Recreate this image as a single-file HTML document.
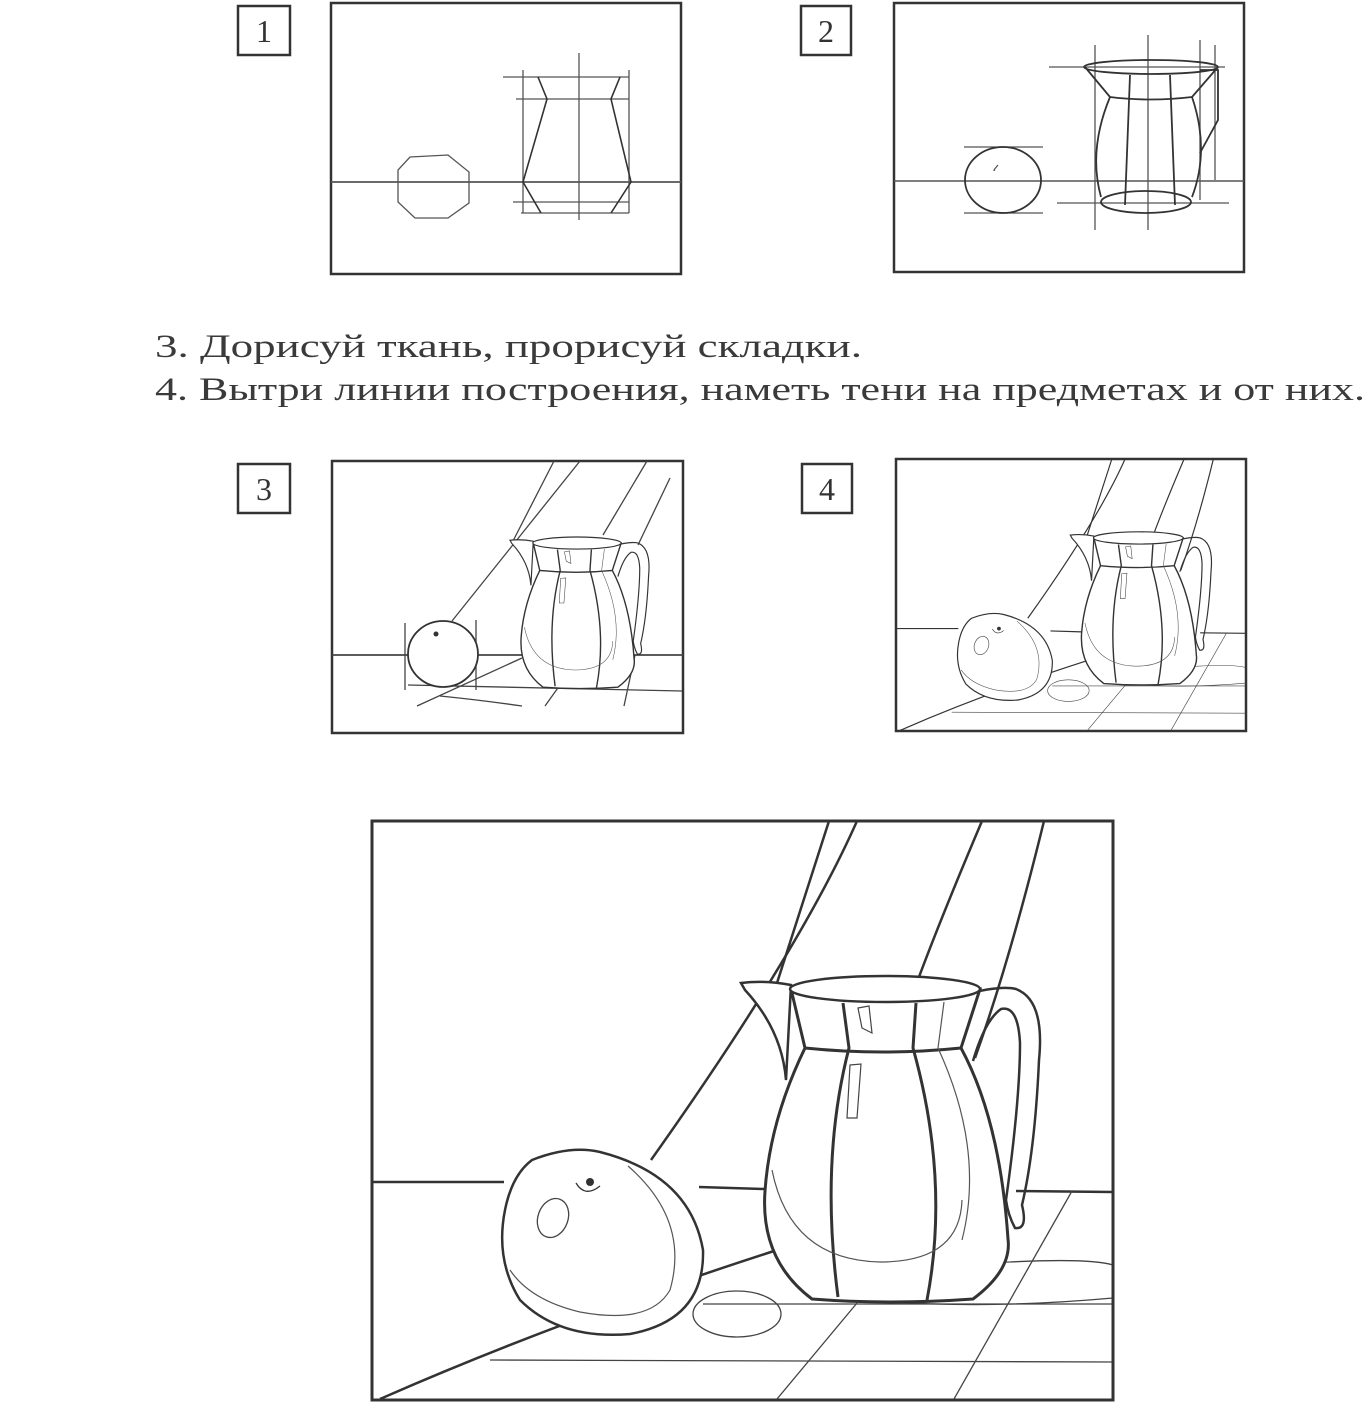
<!DOCTYPE html>
<html><head><meta charset="utf-8"><style>
html,body{margin:0;padding:0;background:#fff;}
svg{display:block;}
</style></head><body>
<svg width="1371" height="1424" viewBox="0 0 1371 1424" xmlns="http://www.w3.org/2000/svg">
<defs>
<g id="jug">
  <!-- spout -->
  <path d="M741,983 Q765,980 791,985 L786,1080 Q782,1030 745,990 Z" fill="#fff" stroke="#333" stroke-width="2.5"/>
  <!-- handle -->
  <path d="M963,995 Q1000,985 1016,989 Q1045,1000 1039,1060 Q1035,1150 1022,1205 Q1028,1230 1015,1228 Q1008,1215 1006,1200 Q1020,1100 1020,1043 Q1018,1005 1001,1009 Q985,1020 973,1061" fill="none" stroke="#333" stroke-width="2.5"/>
  <!-- body -->
  <path d="M805,1048 Q770,1120 765,1191 Q760,1260 812,1299 Q890,1305 973,1299 Q1012,1270 1008,1239 Q1000,1120 961,1048 Z" fill="#fff" stroke="#333" stroke-width="3"/>
  <!-- neck -->
  <path d="M791,989 L805,1048 Q883,1056 961,1048 L980,989 Z" fill="#fff" stroke="#333" stroke-width="3"/>
  <ellipse cx="885" cy="989" rx="95" ry="13" fill="#fff" stroke="#333" stroke-width="2.5"/>
  <!-- panel lines -->
  <path d="M843,1003 L849,1048 Q820,1160 838,1297" fill="none" stroke="#333" stroke-width="3"/>
  <path d="M916,1003 L913,1048 Q950,1180 927,1300" fill="none" stroke="#333" stroke-width="3"/>
  <path d="M944,1002 L938,1048 Q985,1150 962,1240" fill="none" stroke="#555" stroke-width="1.2"/>
  <path d="M772,1170 Q790,1260 880,1262 Q960,1262 962,1200" fill="none" stroke="#555" stroke-width="1.2"/>
  <!-- highlights -->
  <path d="M858,1008 L869,1006 L872,1033 L862,1028 Z" fill="none" stroke="#444" stroke-width="1.2"/>
  <path d="M850,1065 L861,1064 L857,1118 L847,1118 Z" fill="none" stroke="#444" stroke-width="1.2"/>
</g>
<g id="scene">
  <!-- fabric -->
  <g fill="none" stroke="#333" stroke-width="2.5">
    <path d="M829,821 L777,983"/>
    <path d="M857,821 Q800,950 651,1160"/>
    <path d="M982,821 Q940,920 916,985"/>
    <path d="M1044,821 Q1010,960 975,1058"/>
    <!-- table -->
    <path d="M372,1182 L504,1182"/>
    <path d="M699,1187 L765,1189"/>
    <path d="M1016,1191 L1113,1192"/>
    <path d="M380,1399 Q560,1320 774,1251"/>
  </g>
  <g fill="none" stroke="#444" stroke-width="1.3">
    <path d="M703,1304 L1113,1304"/>
    <path d="M490,1360 L1113,1362"/>
    <path d="M1072,1191 L954,1399"/>
    <path d="M857,1303 L777,1399"/>
    <ellipse cx="737" cy="1314" rx="44" ry="23"/>
    <path d="M869,1300 Q900,1262 1010,1262 Q1090,1258 1113,1265"/>
    <path d="M869,1300 Q980,1310 1113,1298"/>
  </g>
  <!-- orange -->
  <path d="M532,1160 Q570,1145 600,1152 Q690,1175 703,1250 Q705,1320 630,1334 Q560,1340 520,1300 Q495,1260 505,1210 Q512,1175 532,1160 Z" fill="#fff" stroke="#333" stroke-width="2.5"/>
  <path d="M628,1166 Q690,1220 670,1290 Q650,1325 580,1312 Q530,1300 510,1270" fill="none" stroke="#555" stroke-width="1.2"/>
  <ellipse cx="553" cy="1218" rx="15" ry="20" transform="rotate(20 553 1218)" fill="none" stroke="#444" stroke-width="1.3"/>
  <circle cx="590" cy="1182" r="4" fill="#333"/>
  <path d="M576,1183 Q585,1198 600,1186" fill="none" stroke="#333" stroke-width="1.3"/>
  <use href="#jug"/>
</g>
</defs>

<!-- Labels -->
<g fill="#fff" stroke="#333" stroke-width="2.5">
  <rect x="238" y="6" width="52" height="49"/>
  <rect x="801" y="6" width="50" height="49"/>
  <rect x="238" y="464" width="52" height="49"/>
  <rect x="802" y="464" width="50" height="49"/>
</g>
<g font-family="Liberation Serif, serif" font-size="32" fill="#333" text-anchor="middle">
  <text x="264" y="42">1</text>
  <text x="826" y="42">2</text>
  <text x="264" y="500">3</text>
  <text x="827" y="500">4</text>
</g>

<!-- Frame 1 -->
<rect x="331" y="3" width="350" height="271" fill="none" stroke="#333" stroke-width="2.5"/>
<g fill="none" stroke="#555" stroke-width="1.3">
  <path d="M331,182 L681,182" stroke-width="1.8"/>
  <path d="M410,157 L448,155 L469,172 L469,203 L448,218 L415,218 L398,202 L398,170 Z"/>
  <path d="M523,70 L523,213 M629,70 L629,213 M579,53 L579,220"/>
  <path d="M503,77 L629,77 M516,99 L629,99 M513,202 L629,202 M521,213 L629,213"/>
  <path d="M538,77 L547,99 L523,182 L541,213 M620,77 L611,99 L631,182 L611,213" stroke="#333" stroke-width="1.6"/>
</g>

<!-- Frame 2 -->
<rect x="894" y="3" width="350" height="269" fill="none" stroke="#333" stroke-width="2.5"/>
<g fill="none" stroke="#555" stroke-width="1.3">
  <path d="M894,181 L1244,181" stroke-width="1.5"/>
  <path d="M1095,45 L1095,230 M1148,35 L1148,230 M1200,40 L1200,200 M1215,45 L1215,180"/>
  <path d="M1049,67 L1225,67 M1057,203 L1229,203 M964,147 L1043,147 M964,213 L1043,213"/>
  <ellipse cx="1003" cy="180" rx="38" ry="33" stroke="#333" stroke-width="1.8"/>
  <path d="M998,165 Q992,172 995,170" />
  <g stroke="#333" stroke-width="1.8">
    <ellipse cx="1151" cy="67" rx="67" ry="7"/>
    <path d="M1085,67 L1110,97 Q1150,102 1192,97 L1218,67"/>
    <path d="M1110,97 Q1088,150 1101,197 M1192,97 Q1210,150 1192,197"/>
    <ellipse cx="1146" cy="202" rx="45" ry="11"/>
    <path d="M1130,75 L1125,205 M1170,75 L1175,205"/>
    <path d="M1200,70 L1218,70 L1218,120 L1200,153"/>
  </g>
</g>

<!-- Text -->
<g font-family="Liberation Serif, serif" font-size="33" fill="#3a3a3a">
  <text x="155" y="357" textLength="707" lengthAdjust="spacingAndGlyphs">3. Дорисуй ткань, прорисуй складки.</text>
  <text x="155" y="400" textLength="1210" lengthAdjust="spacingAndGlyphs">4. Вытри линии построения, наметь тени на предметах и от них.</text>
</g>

<!-- Frame 3 -->
<rect x="332" y="461" width="351" height="272" fill="none" stroke="#333" stroke-width="2.5"/>
<g fill="none" stroke="#444" stroke-width="1.3">
  <path d="M554,461 L513,541 M580,461 L452,621 M647,461 L603,535 M670,478 L638,545"/>
  <path d="M332,655 L683,655" stroke-width="1.8"/>
  <path d="M522,658 L417,706 M408,685 L682,691 M440,696 Q480,700 522,706 M560,685 L545,706 M635,655 L624,706"/>
  <path d="M405,623 L405,690 M476,620 L476,690"/>
</g>
<ellipse cx="443" cy="654" rx="35" ry="33" fill="#fff" stroke="#333" stroke-width="1.8"/>
<circle cx="436" cy="634" r="2.5" fill="#333"/>
<g transform="translate(510,537) scale(0.465) translate(-741,-976)"><use href="#jug"/></g>

<!-- Frame 4 -->
<rect x="896" y="459" width="350" height="272" fill="#fff" stroke="#333" stroke-width="2.5"/>
<g transform="translate(896,459) scale(0.4723,0.4698) translate(-372,-821)"><use href="#scene"/></g>

<!-- Big frame -->
<rect x="372" y="821" width="741" height="579" fill="#fff" stroke="#333" stroke-width="3"/>
<use href="#scene"/>
<rect x="372" y="821" width="741" height="579" fill="none" stroke="#333" stroke-width="3"/>
</svg>
</body></html>
